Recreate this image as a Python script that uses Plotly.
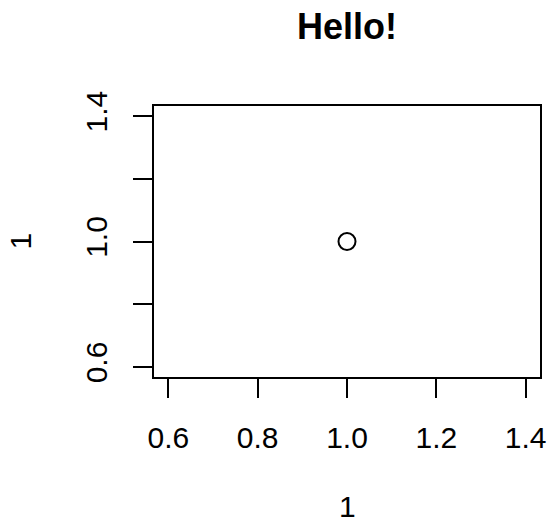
import plotly.graph_objects as go

x_vals = [1]
y_vals = [1]
tick_vals = [0.6, 0.8, 1.0, 1.2, 1.4]
tick_text = ["0.6", "0.8", "1.0", "1.2", "1.4"]
ytick_vals = [0.6, 0.8, 1.0, 1.2, 1.4]
ytick_text = ["0.6", "", "1.0", "", "1.4"]
title_text = "Hello!"
xlab = "1"
ylab = "1"

FONT = "Liberation Sans, Arial, sans-serif"
W, H = 550, 525
L, R, T, B = 154, 10, 106, 148

fig = go.Figure()
fig.add_trace(go.Scatter(
    x=x_vals, y=y_vals, mode="markers",
    marker=dict(symbol="circle-open", size=17, color="black", line=dict(width=2, color="black")),
    hoverinfo="skip", showlegend=False,
))

axis_common = dict(
    range=[0.568, 1.432], showgrid=False, zeroline=False,
    showline=True, linecolor="black", linewidth=2, mirror=True,
    ticks="outside", ticklen=19, tickwidth=2, tickcolor="black",
    tickfont=dict(family=FONT, size=30, color="black"),
)
fig.update_xaxes(tickvals=tick_vals, ticktext=tick_text, ticklabelstandoff=14, **axis_common)
fig.update_yaxes(tickvals=ytick_vals, ticktext=ytick_text, tickangle=-90, ticklabelstandoff=14, **axis_common)

fig.update_layout(
    width=W, height=H,
    margin=dict(l=L, r=R, t=T, b=B, autoexpand=False),
    paper_bgcolor="white", plot_bgcolor="white",
    title=dict(text="<b>" + title_text + "</b>", x=(L + (W - R)) / 2 / W, xanchor="center",
               xref="container", yref="container", y=1 - 26 / H, yanchor="middle",
               font=dict(family=FONT, size=36, color="black")),
    font=dict(family=FONT, color="black"),
    annotations=[
        dict(text=xlab, xref="paper", yref="paper", x=0.5, y=-(524 - (H - B)) / (H - T - B),
             xanchor="center", yanchor="bottom", showarrow=False, borderpad=0,
             font=dict(family=FONT, size=30, color="black")),
        dict(text=ylab, xref="paper", yref="paper", x=-(L - 20) / (W - L - R), y=0.5,
             xanchor="center", yanchor="middle", showarrow=False, textangle=-90,
             font=dict(family=FONT, size=30, color="black")),
    ],
)

fig.write_html("out.html", config={"displayModeBar": False},
               post_script="document.body.style.margin='0';")
